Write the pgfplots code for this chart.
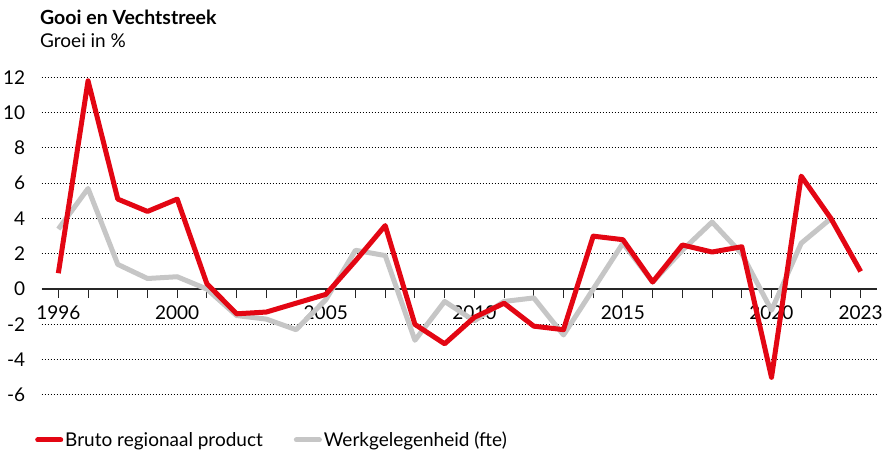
\documentclass[border=0pt]{standalone}
\usepackage{pgfplots}
\pgfplotsset{compat=1.18}
\usepackage{fontspec}
\setmainfont{Lato}
\definecolor{brp}{RGB}{227,6,19}
\definecolor{werk}{RGB}{198,198,198}
\begin{document}
\begin{tikzpicture}
\useasboundingbox (0,0) rectangle (892pt,454pt);
\node[anchor=base west, inner sep=0pt, font=\bfseries\fontsize{19.5}{22}\selectfont] at (40pt,429pt) {Gooi en Vechtstreek};
\node[anchor=base west, inner sep=0pt, font=\fontsize{19}{22}\selectfont] at (40pt,406pt) {Groei in \%};
\begin{axis}[
  at={(41.7pt,59pt)}, anchor=south west,
  scale only axis, width=835pt, height=317.7pt,
  xmin=1995.44, xmax=2023.54, ymin=-6, ymax=12,
  axis x line=middle, axis y line=left,
  axis line style={-},
  x axis line style={draw=black!85, line width=1.2pt},
  y axis line style={draw=none},
  xtick={1996,...,2023},
  xticklabels={1996,,,,2000,,,,,2005,,,,,2010,,,,,2015,,,,,2020,,,2023},
  tick align=outside, major tick length=9pt,
  x tick style={draw=black!85, line width=1pt},
  ytick={-6,-4,...,12},
  yticklabels={-6,-4,-2,0,2,4,6,8,10,12},
  y tick style={draw=none},
  ymajorgrids,
  grid style={black, line width=1pt, dash pattern=on 1.5pt off 1.5pt},
  tick label style={font=\fontsize{19}{22}\selectfont},
  xticklabel style={yshift=-4pt},
  yticklabel style={xshift=-4pt},
  clip=false,
  legend columns=2,
  reverse legend,
  legend style={at={(axis description cs:-0.008,-0.1416)}, anchor=west, draw=none, fill=none, inner sep=0pt,
    font=\fontsize{19}{22}\selectfont, /tikz/every even column/.append style={column sep=29pt}},
  legend image code/.code={\draw[#1, line cap=round] (0pt,0pt) -- (23pt,0pt);},
]
\addplot[werk, line width=5pt, line join=round] coordinates {
(1996,3.4) (1997,5.7) (1998,1.4) (1999,0.6) (2000,0.7) (2001,0.0) (2002,-1.5) (2003,-1.7)
(2004,-2.3) (2005,-0.6) (2006,2.2) (2007,1.9) (2008,-2.9) (2009,-0.7) (2010,-1.8) (2011,-0.7)
(2012,-0.5) (2013,-2.6) (2014,0.0) (2015,2.6) (2016,0.4) (2017,2.2) (2018,3.8) (2019,2.0)
(2020,-1.2) (2021,2.6) (2022,4.0)
};
\addlegendentry{Werkgelegenheid (fte)}
\addplot[brp, line width=5pt, line join=round] coordinates {
(1996,0.9) (1997,11.8) (1998,5.1) (1999,4.4) (2000,5.1) (2001,0.3) (2002,-1.4) (2003,-1.3)
(2004,-0.8) (2005,-0.3) (2006,1.6) (2007,3.6) (2008,-2.0) (2009,-3.1) (2010,-1.6) (2011,-0.8)
(2012,-2.1) (2013,-2.3) (2014,3.0) (2015,2.8) (2016,0.4) (2017,2.5) (2018,2.1) (2019,2.4)
(2020,-5.0) (2021,6.4) (2022,4.0) (2023,1.0)
};
\addlegendentry{Bruto regionaal product}
\end{axis}
\end{tikzpicture}
\end{document}
